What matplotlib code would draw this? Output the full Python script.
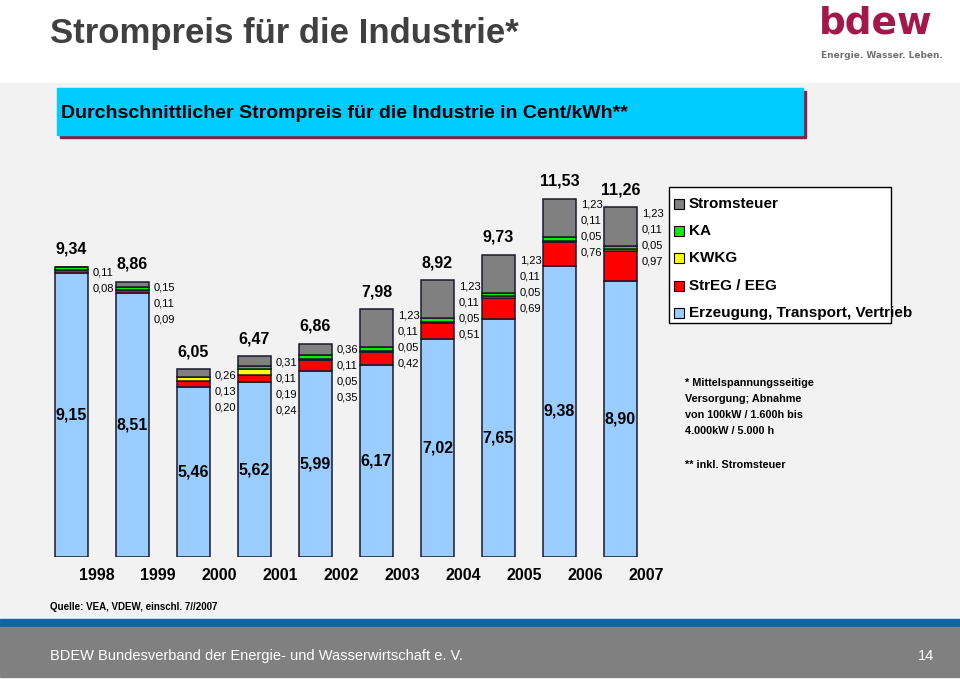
import numpy as np
import matplotlib
matplotlib.use("Agg")
import matplotlib.pyplot as plt
from matplotlib.patches import Rectangle

plt.rcParams["font.family"] = ["Liberation Sans", "DejaVu Sans"]

# Durchschnittlicher Strompreis Industrie, Cent/kWh
years = ["1998", "1999", "2000", "2001", "2002", "2003", "2004", "2005", "2006", "2007"]
erzeugung = [9.15, 8.51, 5.46, 5.62, 5.99, 6.17, 7.02, 7.65, 9.38, 8.90]
eeg = [0.08, 0.09, 0.20, 0.24, 0.35, 0.42, 0.51, 0.69, 0.76, 0.97]
kwkg = [0.00, 0.00, 0.13, 0.19, 0.05, 0.05, 0.05, 0.05, 0.05, 0.05]
ka = [0.11, 0.11, 0.00, 0.11, 0.11, 0.11, 0.11, 0.11, 0.11, 0.11]
stromsteuer = [0.00, 0.15, 0.26, 0.31, 0.36, 1.23, 1.23, 1.23, 1.23, 1.23]
totals = [9.34, 8.86, 6.05, 6.47, 6.86, 7.98, 8.92, 9.73, 11.53, 11.26]

legend_labels = ["Stromsteuer", "KA", "KWKG", "StrEG / EEG", "Erzeugung, Transport, Vertrieb"]
notes = "* Mittelspannungsseitige\nVersorgung; Abnahme\nvon 100kW / 1.600h bis\n4.000kW / 5.000 h"

c_base = "#99ccff"
c_eeg = "#ff0000"
c_kwkg = "#ffff00"
c_ka = "#00ee00"
c_st = "#808080"


def de(v):
    return f"{v:.2f}".replace(".", ",")


W, H = 960, 679
fig = plt.figure(figsize=(9.6, 6.79), dpi=100)

# background / decoration axes in pixel coordinates
bg = fig.add_axes([0, 0, 1, 1], zorder=0)
bg.set_xlim(0, W)
bg.set_ylim(H, 0)
bg.axis("off")
bg.add_patch(Rectangle((0, 0), W, H, color="white"))
bg.add_patch(Rectangle((0, 83), W, 537, color="#f2f2f2"))
bg.add_patch(Rectangle((0, 619), W, 8, color="#0a64a8"))
bg.add_patch(Rectangle((0, 627), W, 50, color="#808080"))

bg.text(50, 34, "Strompreis für die Industrie*", fontsize=25, fontweight="bold",
        color="#404040", va="center", ha="left")
bg.text(819, 24, "bdew", family="DejaVu Sans", fontsize=27, fontweight="bold",
        color="#a3174a", va="center", ha="left")
bg.text(821, 55, "Energie. Wasser. Leben.", family="DejaVu Sans", fontsize=6.5,
        fontweight="bold", color="#707070", va="center", ha="left")

bg.add_patch(Rectangle((60, 91), 746, 47, color="#8c1d40"))
bg.add_patch(Rectangle((57, 88), 746, 47, color="#00ccff"))
bg.text(61, 114, "Durchschnittlicher Strompreis für die Industrie in Cent/kWh**",
        fontsize=14, fontweight="bold", color="black", va="center", ha="left")

bg.text(50, 607, "Quelle: VEA, VDEW, einschl. 7//2007", fontsize=7, fontweight="bold",
        va="center", ha="left")
bg.text(50, 656, "BDEW Bundesverband der Energie- und Wasserwirtschaft e. V.",
        fontsize=10.5, color="white", va="center", ha="left")
bg.text(918, 656, "14", fontsize=10.5, color="white", va="center", ha="left")

# legend
bg.add_patch(Rectangle((669, 187), 222, 136, facecolor="white", edgecolor="black", lw=1))
leg_colors = [c_st, c_ka, c_kwkg, c_eeg, c_base]
for k, (lab, col) in enumerate(zip(legend_labels, leg_colors)):
    yy = 204 + 27.2 * k
    bg.add_patch(Rectangle((674, yy - 5), 10, 10, facecolor=col, edgecolor="black", lw=0.8))
    bg.text(689, yy, lab, fontsize=11, fontweight="bold", va="center", ha="left")

bg.text(685, 378, notes, fontsize=7.8, fontweight="bold", va="top", ha="left",
        linespacing=1.75)
bg.text(685, 465, "** inkl. Stromsteuer", fontsize=7.8, fontweight="bold",
        va="center", ha="left")

# bar chart
ax = fig.add_axes([41 / W, 122 / H, 610 / W, 372.6 / H], zorder=1)
ax.patch.set_alpha(0)
x = np.arange(len(years))
bw = 0.54
segments = [(erzeugung, c_base), (eeg, c_eeg), (kwkg, c_kwkg), (ka, c_ka), (stromsteuer, c_st)]
bottom = np.zeros(len(years))
for vals, col in segments:
    vals = np.array(vals)
    ax.bar(x, vals, bw, bottom=bottom, color=col, edgecolor="#1a1a2e", linewidth=1.1)
    bottom += vals

ax.set_xlim(-0.5, len(years) - 0.5)
ax.set_ylim(0, 12)
for s in ax.spines.values():
    s.set_visible(False)
ax.set_yticks([])
ax.set_xticks(x + 0.42)
ax.set_xticklabels(years, fontsize=11.5, fontweight="bold")
ax.tick_params(axis="x", length=0, pad=8)

for i in range(len(years)):
    ax.annotate(de(totals[i]), (x[i], totals[i]), xytext=(0, 10), textcoords="offset pixels",
                ha="center", va="bottom", fontsize=11.5, fontweight="bold")
    ax.text(x[i], erzeugung[i] / 2, de(erzeugung[i]), ha="center", va="center",
            fontsize=11.5, fontweight="bold")
    small = [v for v in (stromsteuer[i], ka[i], kwkg[i], eeg[i]) if v > 0]
    for k, v in enumerate(small):
        ax.annotate(de(v), (x[i] + bw / 2, totals[i]), xytext=(5, -6 - 16 * k),
                    textcoords="offset pixels", ha="left", va="center", fontsize=8)

fig.savefig("out.png", dpi=100)
